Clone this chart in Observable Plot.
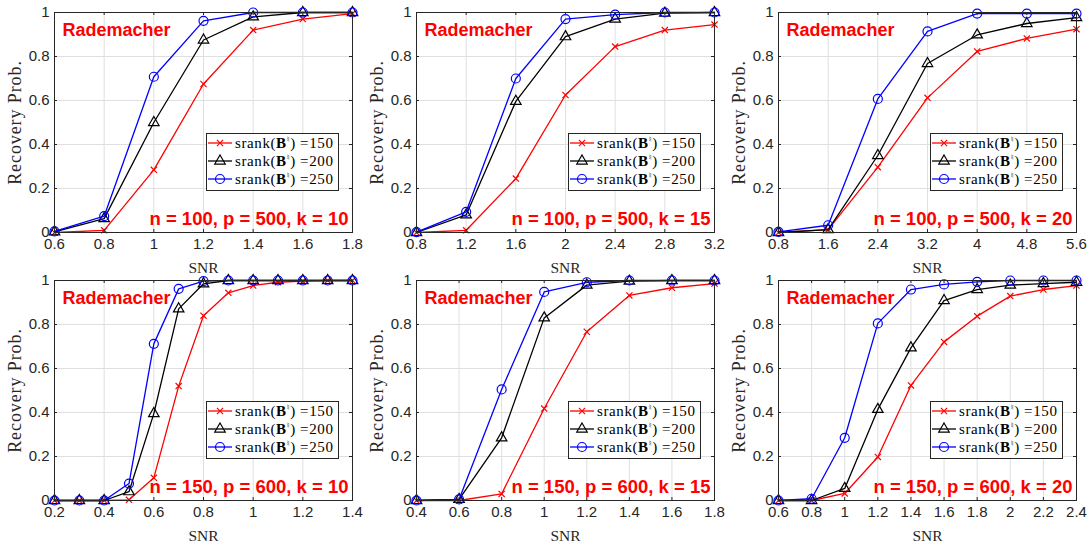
<!DOCTYPE html>
<html><head><meta charset="utf-8">
<script src="https://cdn.jsdelivr.net/npm/d3@7"></script>
<script src="https://cdn.jsdelivr.net/npm/@observablehq/plot@0.6"></script>
<style>
body{margin:0;background:#fff;}
#root{position:relative;width:1087px;height:542px;overflow:hidden;background:#fff;}
.panel{position:absolute;}
.legend{position:absolute;width:131px;height:56px;border:1px solid #262626;background:#fff;box-sizing:content-box;font-family:"Liberation Serif",serif;font-size:15px;color:#000;}
.legend .row{height:18px;display:flex;align-items:center;white-space:nowrap;letter-spacing:0.6px;}
.legend svg{display:block;margin-left:1px;margin-right:3px;flex:none;}
.legend b{font-weight:bold;}
.legend sup{font-size:8px;vertical-align:6px;line-height:0;font-family:"DejaVu Sans",sans-serif;}
</style></head><body><div id="root"></div>
<script>
// ---------- data ----------
const seriesLabels = ["150", "200", "250"];
const seriesColors = ["#ff0000", "#000000", "#0000ff"];
const seriesSymbols = ["times", "triangle", "circle"];
const yTicks = [0, 0.2, 0.4, 0.6, 0.8, 1];

const titleA = "n = 100, p = 500, k = 10";
const snrA = [0.6, 0.8, 1, 1.2, 1.4, 1.6, 1.8];
const ticksA = [0.6, 0.8, 1, 1.2, 1.4, 1.6, 1.8];
const a150 = [0, 0.01, 0.285, 0.675, 0.92, 0.97, 0.995];
const a200 = [0.003, 0.063, 0.50, 0.875, 0.98, 1, 1];
const a250 = [0.005, 0.074, 0.708, 0.962, 1, 1, 1];

const titleB = "n = 100, p = 500, k = 15";
const snrB = [0.8, 1.2, 1.6, 2, 2.4, 2.8, 3.2];
const ticksB = [0.8, 1.2, 1.6, 2, 2.4, 2.8, 3.2];
const b150 = [0, 0.01, 0.245, 0.625, 0.845, 0.92, 0.945];
const b200 = [0, 0.08, 0.596, 0.89, 0.97, 0.997, 1];
const b250 = [0.002, 0.094, 0.70, 0.97, 0.99, 1, 1];

const titleC = "n = 100, p = 500, k = 20";
const snrC = [0.8, 1.6, 2.4, 3.2, 4, 4.8, 5.6];
const ticksC = [0.8, 1.6, 2.4, 3.2, 4, 4.8, 5.6];
const c150 = [0, 0.013, 0.297, 0.612, 0.823, 0.882, 0.924];
const c200 = [0, 0.013, 0.35, 0.768, 0.898, 0.95, 0.977];
const c250 = [0.003, 0.033, 0.607, 0.914, 0.995, 0.995, 0.995];

const titleD = "n = 150, p = 600, k = 10";
const snrD = [0.2, 0.3, 0.4, 0.5, 0.6, 0.7, 0.8, 0.9, 1, 1.1, 1.2, 1.3, 1.4];
const ticksD = [0.2, 0.4, 0.6, 0.8, 1, 1.2, 1.4];
const d150 = [0, 0, 0, 0.003, 0.103, 0.52, 0.84, 0.944, 0.977, 0.992, 0.997, 1, 1];
const d200 = [0, 0, 0, 0.04, 0.395, 0.871, 0.985, 1, 1, 1, 1, 1, 1];
const d250 = [0, 0, 0, 0.077, 0.712, 0.962, 0.997, 1, 1, 1, 1, 1, 1];

const titleE = "n = 150, p = 600, k = 15";
const snrE = [0.4, 0.6, 0.8, 1, 1.2, 1.4, 1.6, 1.8];
const ticksE = [0.4, 0.6, 0.8, 1, 1.2, 1.4, 1.6, 1.8];
const e150 = [0, 0, 0.03, 0.418, 0.767, 0.932, 0.967, 0.986];
const e200 = [0, 0.005, 0.285, 0.83, 0.979, 0.997, 1, 1];
const e250 = [0, 0.005, 0.505, 0.948, 0.992, 1, 1, 1];

const titleF = "n = 150, p = 600, k = 20";
const snrF = [0.6, 0.8, 1, 1.2, 1.4, 1.6, 1.8, 2, 2.2, 2.4];
const ticksF = [0.6, 0.8, 1, 1.2, 1.4, 1.6, 1.8, 2, 2.2, 2.4];
const f150 = [0, 0, 0.032, 0.198, 0.523, 0.721, 0.838, 0.929, 0.959, 0.977];
const f200 = [0, 0, 0.055, 0.414, 0.694, 0.909, 0.959, 0.979, 0.986, 0.992];
const f250 = [0, 0.008, 0.285, 0.805, 0.959, 0.982, 0.994, 1, 1, 1];

const panels = [
  {title: titleA, snr: snrA, ticks: ticksA, series: [a150, a200, a250]},
  {title: titleB, snr: snrB, ticks: ticksB, series: [b150, b200, b250]},
  {title: titleC, snr: snrC, ticks: ticksC, series: [c150, c200, c250]},
  {title: titleD, snr: snrD, ticks: ticksD, series: [d150, d200, d250]},
  {title: titleE, snr: snrE, ticks: ticksE, series: [e150, e200, e250]},
  {title: titleF, snr: snrF, ticks: ticksF, series: [f150, f200, f250]}
];

// ---------- layout ----------
const AX = "#262626";
const GRID = "#dfdfdf";
const SANS = "Liberation Sans, Arial, sans-serif";
const SERIF = "Liberation Serif, Times New Roman, serif";
const mL = 54, mT = 12, mB = 42, plotW = 298, plotH = 220;
const symR = {times: 2.9, triangle: 3.9, circle: 4.5};

const root = document.getElementById("root");

panels.forEach((p, i) => {
  const col = i % 3, row = Math.floor(i / 3);
  const left = col * 362, top = row * 268;
  const width = col === 2 ? 363 : 362;
  const mR = width - mL - plotW;

  const marks = [
    Plot.gridX(p.ticks, {stroke: GRID, strokeOpacity: 1}),
    Plot.gridY(yTicks, {stroke: GRID, strokeOpacity: 1})
  ];
  p.series.forEach((vals, s) => {
    const data = p.snr.map((x, j) => ({x, y: vals[j]}));
    marks.push(Plot.line(data, {x: "x", y: "y", stroke: seriesColors[s], strokeWidth: 1.3}));
    marks.push(Plot.dot(data, {x: "x", y: "y", symbol: seriesSymbols[s], r: symR[seriesSymbols[s]],
      stroke: seriesColors[s], fill: "none", strokeWidth: 1.2}));
  });
  marks.push(
    Plot.tickX(p.ticks, {x: d => d, stroke: AX, insetTop: plotH - 3}),
    Plot.tickX(p.ticks, {x: d => d, stroke: AX, insetBottom: plotH - 3}),
    Plot.tickY(yTicks, {y: d => d, stroke: AX, insetRight: plotW - 3}),
    Plot.tickY(yTicks, {y: d => d, stroke: AX, insetLeft: plotW - 3}),
    Plot.frame({stroke: AX, strokeWidth: 1}),
    Plot.axisX(p.ticks, {tickSize: 0, tickPadding: 6, fontSize: 15, fill: AX, tickFormat: d => String(d), label: null}),
    Plot.axisY(yTicks, {tickSize: 0, tickPadding: 5, fontSize: 15, fill: AX, tickFormat: d => String(d), label: null}),
    Plot.text(["SNR"], {text: d => d, frameAnchor: "bottom", lineAnchor: "bottom", dy: 40,
      fontFamily: SERIF, fontSize: 15.5, fill: AX}),
    Plot.text(["Recovery Prob."], {text: d => d, frameAnchor: "left", textAnchor: "middle", rotate: -90, dx: -39,
      lineAnchor: "middle", fontFamily: SERIF, fontSize: 18, fill: AX}),
    Plot.text(["Rademacher"], {text: d => d, frameAnchor: "top-left", textAnchor: "start", lineAnchor: "bottom",
      dx: 8, dy: 23, fontSize: 18, fontWeight: "bold", fill: "#ff0000"}),
    Plot.text([p.title], {text: d => d, frameAnchor: "bottom-right", textAnchor: "end", lineAnchor: "bottom",
      dx: -4, dy: -8, fontSize: 18.5, fontWeight: "bold", fill: "#ff0000"})
  );

  const svg = Plot.plot({
    width, height: mT + plotH + mB,
    marginLeft: mL, marginRight: mR, marginTop: mT, marginBottom: mB,
    x: {domain: [p.ticks[0], p.ticks[p.ticks.length - 1]], axis: null},
    y: {domain: [0, 1], axis: null},
    style: {fontFamily: SANS, background: "none", overflow: "visible"},
    marks
  });
  d3.select(svg).selectAll("text").filter(function () { return this.textContent === "Recovery Prob."; })
    .attr("letter-spacing", "0.9px");
  const wrap = document.createElement("div");
  wrap.className = "panel";
  wrap.style.left = left + "px";
  wrap.style.top = top + "px";
  wrap.appendChild(svg);
  root.appendChild(wrap);

  // legend
  const lg = document.createElement("div");
  lg.className = "legend";
  lg.style.left = (left + mL + 152) + "px";
  lg.style.top = (top + mT + 121) + "px";
  seriesLabels.forEach((lab, s) => {
    const rowEl = document.createElement("div");
    rowEl.className = "row";
    const sym = {times: d3.symbolTimes, triangle: d3.symbolTriangle, circle: d3.symbolCircle}[seriesSymbols[s]];
    const rr = symR[seriesSymbols[s]];
    const path = d3.symbol(sym, Math.PI * rr * rr)();
    rowEl.innerHTML = `<svg width="24" height="18"><line x1="0" x2="24" y1="9" y2="9" stroke="${seriesColors[s]}" stroke-width="1.3"/>` +
      `<path transform="translate(12,9)" d="${path}" fill="none" stroke="${seriesColors[s]}" stroke-width="1.2"/></svg>` +
      `<span>srank(<b>B</b><sup>\u266E</sup>) =${lab}</span>`;
    lg.appendChild(rowEl);
  });
  root.appendChild(lg);
});
</script></body></html>
